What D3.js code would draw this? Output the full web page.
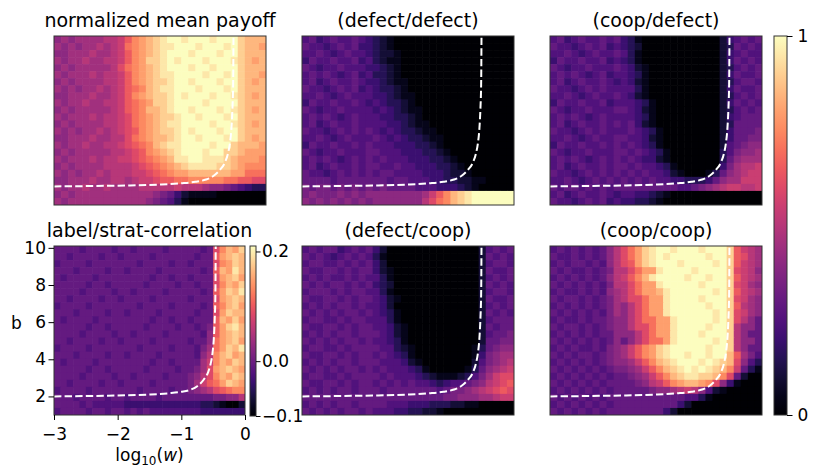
<!DOCTYPE html>
<html>
<head>
<meta charset="utf-8">
<script src="https://cdn.jsdelivr.net/npm/d3@7"></script>
<style>
    body { margin: 0; background: #fff; }
    text { font-family: "DejaVu Sans", sans-serif; fill: #000; }
</style>
</head>
<body>
<div id="chart"></div>
<script>

// axes: log10(w) on x, b on y
const xExtent = [-3, 0];
const yExtent = [1, 10.1];
const xTicks = [-3, -2, -1, 0];
const yTicks = [2, 4, 6, 8, 10];

// colour ranges
const payoffExtent = [0, 1];
const payoffTicks = [0, 1];
const corrExtent = [-0.1, 0.21];
const corrTicks = [-0.1, 0.0, 0.2];

// dashed critical line
const critLogW = [-3, -2.5, -2, -1.5, -1.2, -1.0, -0.85, -0.75, -0.65, -0.58, -0.54, -0.51, -0.49, -0.475, -0.465, -0.46];
const critB    = [2.0, 2.02, 2.05, 2.1, 2.17, 2.25, 2.37, 2.55, 2.9, 3.3, 3.75, 4.35, 5.1, 6.2, 7.5, 10.1];

// grids: 24 rows (b from 10 down to 1) x 30 columns (log10 w from -3 to 0)
// each char is a level in twentieths of the colour range: 0..9, a=10 .. k=20
const gridPayoff = [
    "8989999aab dfghijkkjk kkjkkkihhh",
    "989899a9ab efghijjkkk jkkkjkihhg",
    "88999a99ab dfghijkkkj kkkjkkihhh",
    "9899a99aab dfgiijkjkk kjkkkjihgh",
    "89899999ac efghijkkkj kkjkkkihhh",
    "98999a9aab dfghijjkkk kjkkjkihhg",
    "8989999aab dfghiijkkj kkkjkkihgh",
    "989899a9ab defhijjkkk jkkkjkihhh",
    "88999a99ab dfghiijkjk kkjkkjihgh",
    "9899a99aab defgiijkkk kjkkkkihhh",
    "89899999ab defhhijkkj kkkjkjihgh",
    "98999a9aab cefghiijkk jkkkjkihhh",
    "8989999aab cefghijjkk kkjkkjihgh",
    "989899a9ab cdfghiijkj kkkjkkihhh",
    "88999a99aa cefghhijkk jkkkjkihgh",
    "9899a99aab cdefhijjkk kkjkkihhhg",
    "89899999aa bcdfghijkk kjkkiihggg",
    "98999a9aab bcdefghjjk kjjjihgggf",
    "8989999aaa abcdefghij jjjiihgfff",
    "989899a9aa abbcdefggh hhhhhggeee",
    "88999a99aa 9abbcddeef ffffeeddcc",
    "9899a99a99 99aaaaabaa a988765433",
    "8989999999 9999876421 1110000000",
    "9899999999 9998765310 0000000000"
];

const gridDD = [
    "5645655654 3210000000 0000000000",
    "6554565644 3210000000 0000000000",
    "5565456554 3221000000 0000000000",
    "4655655645 3211000000 0000000000",
    "6545565554 4321000000 0000000000",
    "5656545645 3321000000 0000000000",
    "5645655654 4321100000 0000000000",
    "6554565645 4332100000 0000000000",
    "5565456555 4432110000 0000000000",
    "4655655654 5433210000 0000000000",
    "6545565555 4543211000 0000000000",
    "5656545655 5443321000 0000000000",
    "5645655655 5544321100 0000000000",
    "6554565656 5454332110 0000000000",
    "5565456555 6545433211 0000000000",
    "4655655656 5554443321 0000000000",
    "6545565556 6555444332 1000000000",
    "5656545656 5655544433 2100000000",
    "5645655656 6556554443 3210000000",
    "6554565656 5665555444 3221000000",
    "6666566666 6656655544 3322110000",
    "7677676767 6766665554 4432100000",
    "7877787878 88888889bd fhijkkkkkk",
    "8787878787 8888888ace fhijkkkkkk"
];

const gridCD = [
    "5645655656 4310000000 0000245656",
    "6554565645 4320000000 0000236565",
    "5565456556 5310000000 0000245655",
    "4655655645 4310000000 0000246565",
    "6545565556 5421000000 0000235656",
    "5656545645 5431000000 0000246556",
    "5645655654 5421000000 0000235665",
    "6554565655 5531000000 0000246556",
    "5565456556 5421000000 0000235656",
    "4655655645 5543100000 0000246565",
    "6545565556 6542100000 0000235656",
    "5656545655 5543100000 0000245666",
    "5645655656 5642100000 0000236666",
    "6554565655 5654310000 0000246667",
    "5565456556 6554210000 0000246677",
    "4655655656 5654310000 0000256788",
    "6545565556 6565431000 0000357889",
    "5656545656 5654421000 0000368999",
    "5645655656 6565543100 0000479aab",
    "6554565656 5656554210 0013689abb",
    "5565456565 6565655443 3346899bbb",
    "6566565656 6666666655 6789abbaab",
    "5645655654 5544321000 0000000000",
    "6554565645 4433210000 0000000000"
];

const gridCorr = [
    "6666566665 6656666566 66656cfhgi",
    "6656666566 5666656666 66566dghih",
    "5666656666 6665666656 65666cfgih",
    "6665666656 6566665666 66656dhgjh",
    "6566665666 6666656656 65666cghig",
    "6666656656 6666566665 66566cfhgi",
    "6666566665 6656666566 66656dgihj",
    "6656666566 5666656666 65666cghih",
    "5666656666 6665666656 66656dfhig",
    "6665666656 6566665666 66566cgihh",
    "6566665666 6666656656 65666dhgig",
    "6666656656 6666566665 66567dgijh",
    "6666566665 6656666566 66658dghih",
    "6656666566 5666656666 65668eghig",
    "5666656666 6665666656 66579egihj",
    "6665666656 6566665666 6658afhigh",
    "6566665666 6666656656 6669bfhgih",
    "6666656656 6666566665 6679cghihg",
    "6666566665 6656666566 678acfhgih",
    "6656666566 5666656666 679bdegihg",
    "5666656666 6665666656 6789acdeff",
    "6665666656 6566665666 666667788a",
    "6666565555 5444444444 4443321002",
    "5666656656 6565655555 5554444444"
];

const gridDC = [
    "5656645656 4200000000 0000025656",
    "6565456565 3100000000 0000026565",
    "5665565656 4200000000 0000025665",
    "6556656566 4210000000 0000026556",
    "5656556565 5310000000 0000025656",
    "6565665656 4320000000 0000026565",
    "5666565665 5310000000 0000025665",
    "6556656566 5421000000 0000026556",
    "5656566565 5420000000 0000025656",
    "6565656656 5431000000 0000026565",
    "5665565665 5531000000 0000025666",
    "6556656566 5542100000 0000026566",
    "5656566566 6542100000 0000025667",
    "6565656656 5543100000 0000026677",
    "5665565666 6553210000 0000136788",
    "6556656566 5654310000 0000147899",
    "5656566566 6555421000 000025789a",
    "6565656656 5655543100 00013689ab",
    "5665565666 6565554321 1123579bcc",
    "6556656566 5656565543 455678abcd",
    "5656566566 6566666665 67789abcdc",
    "6666666666 6666666666 7788899abb",
    "5656566566 6655544433 3221100000",
    "6565656656 5554433221 0000000000"
];

const gridCC = [
    "565656568a cegijkkjkk kjkkkidba9",
    "655656568a cegijkjkkk kkjkkidca9",
    "565665658a cdgijkkkjk kkkjkidba9",
    "656556567a aceggjkkkk jkkkkicba8",
    "565656568a bdfhjkkkkj kkjkkidba9",
    "656565657a aceggjkkkk kjkkkicb98",
    "5655656589 acegghjkkk kkkjkidba9",
    "6566565679 acceggjkkk kjkkkicb98",
    "5656565679 8aceggjkkk kkjkkida98",
    "6565656579 8aceggjkkk kkkjkicb98",
    "5655656678 8aceeggjkk kkkjkica86",
    "6566565678 8acceggjkk kkjkkia886",
    "5656565668 88aceggjkk kjkkkia866",
    "6565656568 68aceegjkk kkkjkia886",
    "5656556578 9bdfgijkkk kkjkkia866",
    "6565665678 9bdfgijkkj kkjkkhd975",
    "5656565678 89bdfhijkk kjkjihc853",
    "6565656567 789bdfhijk jkjihfb631",
    "5656565656 6789bdfhij jiihfc6200",
    "6565656566 6678abdfgh hgfc841000",
    "5656565656 66667889ab a852100000",
    "6565656566 6666666665 5310000000",
    "5656565656 6666666642 0000000000",
    "6565656566 6666664200 0000000000"
];


class HeatPanel {

    constructor(svg, cfg) {
        this.svg = svg;
        this.cfg = cfg;
        this.cells = [];

        this.initVis()
    }

    initVis() {
        let vis = this;
        let c = vis.cfg;

        vis.g = vis.svg.append('g')
            .attr('transform', `translate(${c.x}, ${c.y})`);

        vis.clipId = 'clip-' + c.id;
        vis.g.append('clipPath')
            .attr('id', vis.clipId)
            .append('rect')
            .attr('width', c.w)
            .attr('height', c.h);

        vis.xScale = d3.scaleLinear().domain(xExtent).range([0, c.w]);
        vis.yScale = d3.scaleLinear().domain(yExtent).range([c.h, 0]);
        vis.color = d3.scaleSequential(d3.interpolateMagma).domain(c.extent);

        vis.wrangleData();
    }

    wrangleData() {
        let vis = this;
        let lo = vis.cfg.extent[0], hi = vis.cfg.extent[1];
        let rows = vis.cfg.grid.map(s => s.replace(/ /g, ''));

        vis.nRows = rows.length;
        vis.nCols = rows[0].length;

        rows.forEach((s, r) => {
            s.split('').forEach((ch, k) => {
                let level = parseInt(ch, 36);
                vis.cells.push({row: r, col: k, value: lo + level / 20 * (hi - lo)});
            });
        });

        vis.updateVis();
    }

    updateVis() {
        let vis = this;
        let c = vis.cfg;

        vis.colBand = d3.scaleBand().domain(d3.range(vis.nCols)).range([0, c.w]);
        vis.rowBand = d3.scaleBand().domain(d3.range(vis.nRows)).range([0, c.h]);

        vis.g.append('g')
            .attr('clip-path', `url(#${vis.clipId})`)
            .selectAll('.cell')
            .data(vis.cells)
            .enter()
            .append('rect')
            .attr('class', 'cell')
            .attr('x', d => vis.colBand(d.col))
            .attr('y', d => vis.rowBand(d.row))
            .attr('width', vis.colBand.bandwidth() + 0.6)
            .attr('height', vis.rowBand.bandwidth() + 0.6)
            .attr('fill', d => vis.color(d.value));

        // dashed critical line
        let line = d3.line()
            .x(d => vis.xScale(d[0]))
            .y(d => vis.yScale(d[1]))
            .curve(d3.curveMonotoneX);

        vis.g.append('path')
            .datum(d3.zip(critLogW, critB))
            .attr('clip-path', `url(#${vis.clipId})`)
            .attr('d', line)
            .attr('fill', 'none')
            .attr('stroke', 'white')
            .attr('stroke-width', 2)
            .attr('stroke-dasharray', '7.4,3.2');

        vis.g.append('rect')
            .attr('width', c.w)
            .attr('height', c.h)
            .attr('fill', 'none')
            .attr('stroke', '#333')
            .attr('stroke-width', 1);

        vis.g.append('text')
            .attr('x', c.w / 2)
            .attr('y', -9.5)
            .attr('text-anchor', 'middle')
            .style('font-size', '19px')
            .text(c.title);

        if (c.axes) {
            let xAxis = vis.g.append('g')
                .attr('class', 'axis x-axis')
                .attr('transform', `translate(0, ${c.h})`)
                .call(d3.axisBottom(vis.xScale).tickValues(xTicks)
                    .tickSize(5).tickPadding(8).tickFormat(d3.format('d')));
            let yAxis = vis.g.append('g')
                .attr('class', 'axis y-axis')
                .call(d3.axisLeft(vis.yScale).tickValues(yTicks)
                    .tickSize(5.5).tickPadding(2.5).tickFormat(d3.format('d')));

            [xAxis, yAxis].forEach(a => {
                a.select('.domain').remove();
                a.attr('font-size', 17).attr('font-family', 'DejaVu Sans');
                a.selectAll('line').attr('stroke', '#000');
            });

            let xLab = vis.g.append('text')
                .attr('x', c.w / 2)
                .attr('y', 215)
                .attr('text-anchor', 'middle')
                .style('font-size', '17px');
            xLab.append('tspan').text('log');
            xLab.append('tspan').attr('dy', 4).style('font-size', '12px').text('10');
            xLab.append('tspan').attr('dy', -4).text('(');
            xLab.append('tspan').style('font-style', 'italic').text('w');
            xLab.append('tspan').text(')');

            vis.g.append('text')
                .attr('x', -37.5)
                .attr('y', 83)
                .attr('text-anchor', 'middle')
                .style('font-size', '17px')
                .text('b');
        }
    }
}


class ColorBar {

    constructor(svg, cfg) {
        this.svg = svg;
        this.cfg = cfg;

        this.initVis()
    }

    initVis() {
        let vis = this;
        let c = vis.cfg;

        let grad = vis.svg.append('defs').append('linearGradient')
            .attr('id', 'grad-' + c.id)
            .attr('x1', 0).attr('y1', 1)
            .attr('x2', 0).attr('y2', 0);
        grad.selectAll('stop')
            .data(d3.range(0, 1.0001, 0.05))
            .enter()
            .append('stop')
            .attr('offset', d => d)
            .attr('stop-color', d => d3.interpolateMagma(d));

        vis.g = vis.svg.append('g')
            .attr('transform', `translate(${c.x}, ${c.y})`);

        vis.g.append('rect')
            .attr('width', c.w)
            .attr('height', c.h)
            .attr('fill', `url(#grad-${c.id})`)
            .attr('stroke', '#333')
            .attr('stroke-width', 1);

        vis.scale = d3.scaleLinear().domain(c.extent).range([c.h, 0]);

        let axis = vis.g.append('g')
            .attr('transform', `translate(${c.w}, 0)`)
            .call(d3.axisRight(vis.scale).tickValues(c.ticks)
                .tickSize(c.tickSize).tickPadding(c.pad).tickFormat(c.format));
        axis.select('.domain').remove();
        axis.attr('font-size', 17).attr('font-family', 'DejaVu Sans');
        axis.selectAll('line').attr('stroke', '#000');
    }
}


const svg = d3.select('#chart').append('svg')
    .attr('width', 830)
    .attr('height', 470);

const panels = [
    {id: 'p1', title: 'normalized mean payoff', grid: gridPayoff, extent: payoffExtent, x: 54, y: 36, w: 212, h: 169},
    {id: 'p2', title: '(defect/defect)', grid: gridDD, extent: payoffExtent, x: 302, y: 36, w: 212, h: 169},
    {id: 'p3', title: '(coop/defect)', grid: gridCD, extent: payoffExtent, x: 550, y: 36, w: 212, h: 169},
    {id: 'p4', title: 'label/strat-correlation', grid: gridCorr, extent: corrExtent, x: 54, y: 246, w: 191, h: 169, axes: true},
    {id: 'p5', title: '(defect/coop)', grid: gridDC, extent: payoffExtent, x: 302, y: 246, w: 212, h: 169},
    {id: 'p6', title: '(coop/coop)', grid: gridCC, extent: payoffExtent, x: 550, y: 246, w: 212, h: 169}
];

panels.forEach(p => new HeatPanel(svg, p));

new ColorBar(svg, {id: 'main', x: 774, y: 36, w: 13, h: 379, extent: payoffExtent, ticks: payoffTicks,
    format: d3.format('d'), tickSize: 5.5, pad: 5});
new ColorBar(svg, {id: 'corr', x: 250, y: 246, w: 6, h: 170, extent: corrExtent, ticks: corrTicks,
    format: d3.format('.1f'), tickSize: 4.5, pad: 1.5});

</script>
</body>
</html>
